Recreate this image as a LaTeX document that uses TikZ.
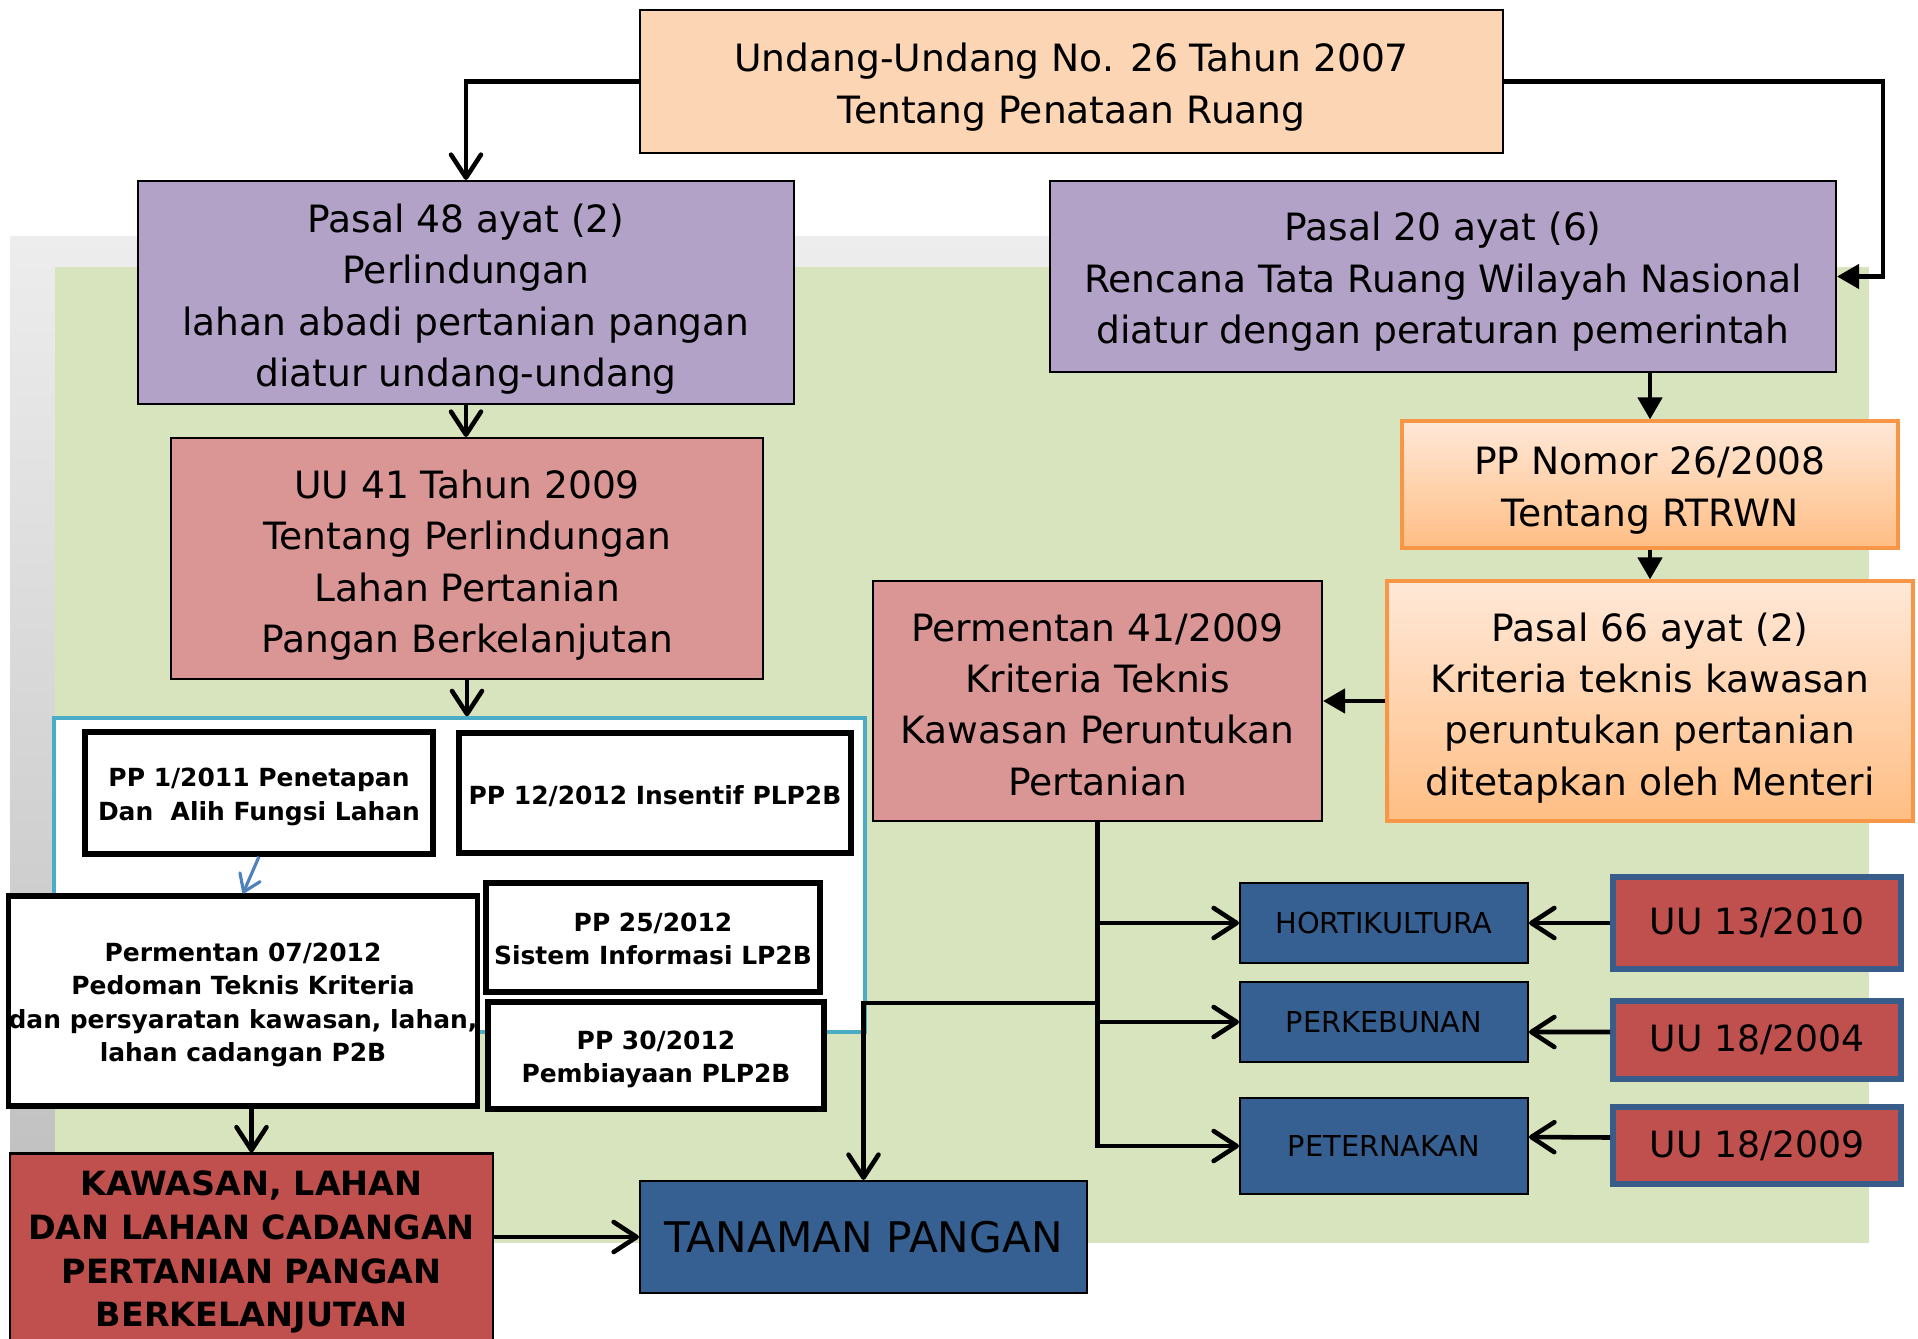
\documentclass[tikz,border=0pt]{standalone}
\usepackage{fontspec}
\setmainfont{DejaVu Sans}
\usetikzlibrary{arrows.meta}

\definecolor{peach}{HTML}{FCD5B5}
\definecolor{lavender}{HTML}{B3A2C7}
\definecolor{rose}{HTML}{D99694}
\definecolor{orangeline}{HTML}{F79646}
\definecolor{orangetop}{HTML}{FFE8D8}
\definecolor{orangebot}{HTML}{FFBE84}
\definecolor{greenbg}{HTML}{D7E4BD}
\definecolor{greytop}{HTML}{EDEDED}
\definecolor{greybot}{HTML}{BFBFBF}
\definecolor{cyanline}{HTML}{4BACC6}
\definecolor{redbox}{HTML}{C0504D}
\definecolor{navy}{HTML}{376092}
\definecolor{uuline}{HTML}{385D8A}
\definecolor{arrowblue}{HTML}{4F81BD}

\tikzset{
  box/.style={draw=black, line width=0.6pt, inner sep=0pt, align=center},
  mainbox/.style={box, font=\fontsize{10.7}{14.6}\selectfont, text depth=2.5pt},
  twolines/.style={text height=26.2pt},
  threelines/.style={text height=40.6pt},
  fourlines/.style={text height=56pt},
  orbox/.style={mainbox, draw=orangeline, line width=0.9pt, top color=orangetop, bottom color=orangebot},
  ppbox/.style={draw=black, line width=1.5pt, fill=white, inner sep=0pt, align=center, font=\fontsize{7.1}{9.5}\selectfont\bfseries, text depth=1.7pt},
  ppone/.style={text height=8.5pt},
  pptwo/.style={text height=17.2pt},
  ppfour/.style={text height=36.2pt},
  sector/.style={box, fill=navy, minimum width=28.8mm, font=\fontsize{8.2}{10}\selectfont},
  uubox/.style={box, draw=uuline, line width=1.6pt, fill=redbox, minimum width=28.8mm, font=\fontsize{10.3}{12}\selectfont},
  conn/.style={line width=1.3pt, -{Straight Barb[length=2.3mm, width=3mm, round]}},
  connF/.style={line width=1.3pt, -{Triangle[length=2.2mm, width=2.4mm]}},
  bluearr/.style={arrowblue, line width=0.9pt, -{Straight Barb[length=1.6mm, width=2.2mm, round]}}
}

\begin{document}
\begin{tikzpicture}[x=0.1mm, y=-0.1mm]
    \useasboundingbox (0,0) rectangle (1918,1338);
    \shade[top color=greytop, bottom color=greybot] (10,236) rectangle (1824,1212);
    \fill[greenbg] (55,267) rectangle (1869,1243);

    \node[mainbox, twolines, fill=peach, minimum width=86.3mm, minimum height=14.3mm] (uu26) at (1071.5,81.5) {Undang-Undang No. 26 Tahun 2007\\Tentang Penataan Ruang};
    \node[mainbox, fourlines, fill=lavender, minimum width=65.6mm, minimum height=22.3mm] (pasal48) at (466,292.5) {Pasal 48 ayat (2)\\Perlindungan\\lahan abadi pertanian pangan\\diatur undang-undang};
    \node[mainbox, threelines, fill=lavender, minimum width=78.6mm, minimum height=19.1mm] (pasal20) at (1443,276.5) {Pasal 20 ayat (6)\\Rencana Tata Ruang Wilayah Nasional\\diatur dengan peraturan pemerintah};
    \node[orbox, twolines, minimum width=49.6mm, minimum height=12.7mm] (ppnomor) at (1650,484.5) {PP Nomor 26/2008\\Tentang RTRWN};
    \node[orbox, fourlines, minimum width=52.6mm, minimum height=24mm] (pasal66) at (1650,701) {Pasal 66 ayat (2)\\Kriteria teknis kawasan\\peruntukan pertanian\\ditetapkan oleh Menteri};
    \node[mainbox, fourlines, fill=rose, minimum width=59.2mm, minimum height=24.1mm] (uu41) at (467,558.5) {UU 41 Tahun 2009\\Tentang Perlindungan\\Lahan Pertanian\\Pangan Berkelanjutan};
    \node[mainbox, fourlines, fill=rose, minimum width=44.9mm, minimum height=24mm] (permentan41) at (1097.5,701) {Permentan 41/2009\\Kriteria Teknis\\Kawasan Peruntukan\\Pertanian};

    \node[draw=cyanline, line width=1pt, fill=white, inner sep=0pt, minimum width=81.1mm, minimum height=31.4mm] (panel) at (459.5,875) {};
    \node[ppbox, pptwo, minimum width=34.8mm, minimum height=12.2mm] (pp1) at (259,793) {PP 1/2011 Penetapan\\Dan\ \ Alih Fungsi Lahan};
    \node[ppbox, ppone, minimum width=39.2mm, minimum height=12mm] (pp12) at (655,793) {PP 12/2012 Insentif PLP2B};
    \node[ppbox, ppfour, minimum width=46.4mm, minimum height=21mm] (perm07) at (243,1001) {Permentan 07/2012\\Pedoman Teknis Kriteria\\dan persyaratan kawasan, lahan,\\lahan cadangan P2B};
    \node[ppbox, pptwo, minimum width=33.4mm, minimum height=10.9mm] (pp25) at (653,937.5) {PP 25/2012\\Sistem Informasi LP2B};
    \node[ppbox, pptwo, minimum width=33.6mm, minimum height=10.7mm] (pp30) at (656,1055.5) {PP 30/2012\\Pembiayaan PLP2B};

    \node[box, fill=redbox, minimum width=48.3mm, minimum height=19.7mm, font=\fontsize{9.5}{12.5}\selectfont\bfseries] (kawasan) at (251.5,1252) {KAWASAN, LAHAN\\DAN LAHAN CADANGAN\\PERTANIAN PANGAN\\BERKELANJUTAN};
    \node[box, fill=navy, minimum width=44.7mm, minimum height=11.2mm, font=\fontsize{12}{14}\selectfont] (tanaman) at (863.5,1237) {TANAMAN PANGAN};

    \node[sector, minimum height=8mm] (horti) at (1384,923) {HORTIKULTURA};
    \node[sector, minimum height=8mm] (perkebunan) at (1384,1022) {PERKEBUNAN};
    \node[sector, minimum height=9.6mm] (peternakan) at (1384,1146) {PETERNAKAN};
    \node[uubox, minimum height=9.2mm] (uu13) at (1757,923) {UU 13/2010};
    \node[uubox, minimum height=7.8mm] (uu18a) at (1757,1040) {UU 18/2004};
    \node[uubox, minimum height=7.7mm] (uu18b) at (1757,1145.5) {UU 18/2009};

    \draw[conn] (uu26.west) -| (pasal48.north);
    \draw[connF] (uu26.east) -| ([xshift=4.6mm]pasal20.east) -- (pasal20.east);
    \draw[connF] (ppnomor.north |- pasal20.south) -- (ppnomor.north);
    \draw[connF] (ppnomor.south) -- (pasal66.north);
    \draw[connF] (pasal66.west) -- (permentan41.east);
    \draw[conn] (pasal48.south) -- (pasal48.south |- uu41.north);
    \draw[conn] (uu41.south) -- (uu41.south |- panel.north);
    \draw[bluearr] (pp1.south) -- (perm07.north);
    \draw[conn] (perm07.south -| kawasan.north) -- (kawasan.north);
    \draw[conn] (kawasan.east |- tanaman.west) -- (tanaman.west);
    \draw[conn] (permentan41.south) |- (horti.west);
    \draw[conn] (permentan41.south) |- (perkebunan.west);
    \draw[conn] (permentan41.south) |- (peternakan.west);
    \draw[conn] ([yshift=-18.1mm]permentan41.south) -| (tanaman.north);
    \draw[conn] (uu13.west) -- (horti.east);
    \draw[conn] ([yshift=0.8mm]uu18a.west) -- ([yshift=-1mm]perkebunan.east);
    \draw[conn] ([yshift=0.8mm]uu18b.west) -- ([yshift=0.9mm]peternakan.east);
\end{tikzpicture}
\end{document}
